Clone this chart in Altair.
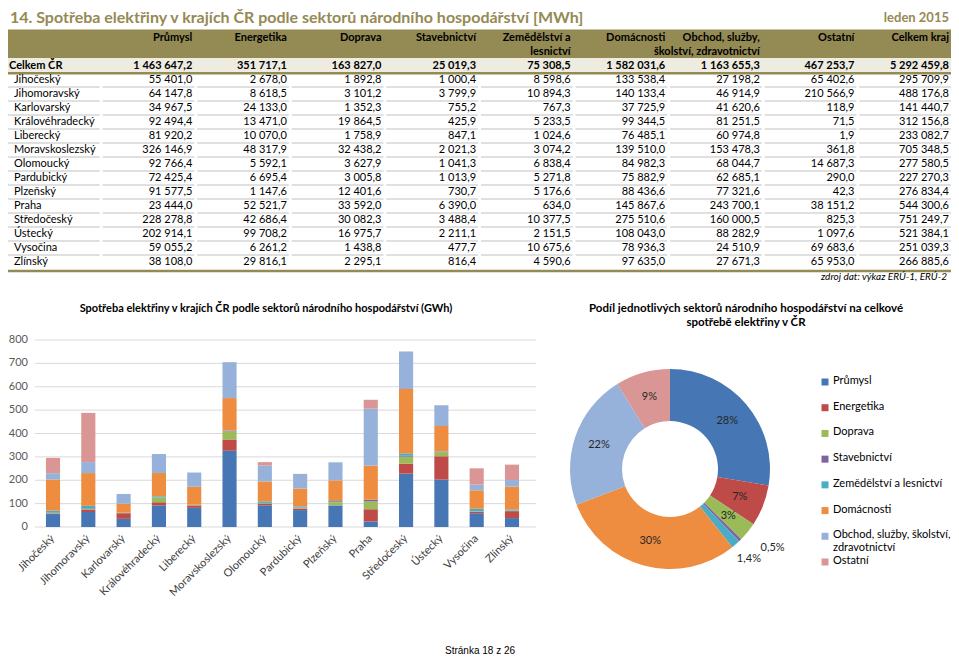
import altair as alt
import pandas as pd

# ---------------- data ----------------
sectors = ["Průmysl", "Energetika", "Doprava", "Stavebnictví", "Zemědělství a lesnictví",
           "Domácnosti", "Obchod, služby, školství, zdravotnictví", "Ostatní"]
legend_labels = ["Průmysl", "Energetika", "Doprava", "Stavebnictví", "Zemědělství a lesnictví",
                 "Domácnosti", "Obchod, služby, školství,\nzdravotnictví", "Ostatní"]
colors = ["#4776B4", "#BE4B48", "#9BBB59", "#7F62A1", "#4BACC6", "#EE8C40", "#97B2DA", "#D99694"]

header_line1 = ["Průmysl", "Energetika", "Doprava", "Stavebnictví", "Zemědělství a",
                "Domácnosti", "Obchod, služby,", "Ostatní", "Celkem kraj"]
header_line2 = ["", "", "", "", "lesnictví", "", "školství, zdravotnictví", "", ""]

regions = ["Jihočeský", "Jihomoravský", "Karlovarský", "Královéhradecký", "Liberecký",
           "Moravskoslezský", "Olomoucký", "Pardubický", "Plzeňský", "Praha",
           "Středočeský", "Ústecký", "Vysočina", "Zlínský"]

prumysl = [55401.0, 64147.8, 34967.5, 92494.4, 81920.2, 326146.9, 92766.4, 72425.4,
           91577.5, 23444.0, 228278.8, 202914.1, 59055.2, 38108.0]
energetika = [2678.0, 8618.5, 24133.0, 13471.0, 10070.0, 48317.9, 5592.1, 6695.4,
              1147.6, 52521.7, 42686.4, 99708.2, 6261.2, 29816.1]
doprava = [1892.8, 3101.2, 1352.3, 19864.5, 1758.9, 32438.2, 3627.9, 3005.8,
           12401.6, 33592.0, 30082.3, 16975.7, 1438.8, 2295.1]
stavebnictvi = [1000.4, 3799.9, 755.2, 425.9, 847.1, 2021.3, 1041.3, 1013.9,
                730.7, 6390.0, 3488.4, 2211.1, 477.7, 816.4]
zemedelstvi = [8598.6, 10894.3, 767.3, 5233.5, 1024.6, 3074.2, 6838.4, 5271.8,
               5176.6, 634.0, 10377.5, 2151.5, 10675.6, 4590.6]
domacnosti = [133538.4, 140133.4, 37725.9, 99344.5, 76485.1, 139510.0, 84982.3, 75882.9,
              88436.6, 145867.6, 275510.6, 108043.0, 78936.3, 97635.0]
obchod = [27198.2, 46914.9, 41620.6, 81251.5, 60974.8, 153478.3, 68044.7, 62685.1,
          77321.6, 243700.1, 160000.5, 88282.9, 24510.9, 27671.3]
ostatni = [65402.6, 210566.9, 118.9, 71.5, 1.9, 361.8, 14687.3, 290.0,
           42.3, 38151.2, 825.3, 1097.6, 69683.6, 65953.0]
celkem_kraj = [295709.9, 488176.8, 141440.7, 312156.8, 233082.7, 705348.5, 277580.5,
               227270.3, 276834.4, 544300.6, 751249.7, 521384.1, 251039.3, 266885.6]
celkem_cr = [1463647.2, 351717.1, 163827.0, 25019.3, 75308.5, 1582031.6, 1163655.3,
             467253.7, 5292459.8]

pie_labels = ["28%", "7%", "3%", "0,5%", "1,4%", "30%", "22%", "9%"]
y_ticks = [0, 100, 200, 300, 400, 500, 600, 700, 800]

title_text = "14. Spotřeba elektřiny v krajích ČR podle sektorů národního hospodářství [MWh]"
date_text = "leden 2015"
source_text = "zdroj dat: výkaz ERÚ-1, ERÚ-2"
bar_title = "Spotřeba elektřiny v krajích ČR podle sektorů národního hospodářství (GWh)"
pie_title = "Podíl jednotlivých sektorů národního hospodářství na celkové\nspotřebě elektřiny v ČR"
footer = "Stránka 18 z 26"

series = [prumysl, energetika, doprava, stavebnictvi, zemedelstvi, domacnosti, obchod, ostatni]

FONT = "Lato"
OLIVE = "#948A54"
W, H = 943, 649


def cz(v):
    return f"{v:,.1f}".replace(",", " ").replace(".", ",")


# ---------------- table ----------------
cols = ["label"] + header_line1
xs = alt.Scale(type="band", domain=cols, range=[0, W], paddingInner=0.03, paddingOuter=0)
ys = alt.Scale(type="linear", domain=[-4, 15], range=[2, 268], nice=False, zero=False)

cells_total = pd.DataFrame({"col": header_line1, "row": 0, "txt": [cz(v) for v in celkem_cr]})
reg_rows = []
for i, r in enumerate(regions):
    vals = [s[i] for s in series] + [celkem_kraj[i]]
    for c, v in zip(header_line1, vals):
        reg_rows.append({"col": c, "row": i + 1, "txt": cz(v)})
cells_reg = pd.DataFrame(reg_rows)
labels_reg = pd.DataFrame({"col": "label", "row": list(range(1, 15)), "txt": regions})
labels_total = pd.DataFrame({"col": ["label"], "row": [0], "txt": ["Celkem ČR"]})
hdr = pd.DataFrame(
    [{"col": c, "row": -2, "txt": a} for c, a in zip(header_line1, header_line1)]
    + [{"col": c, "row": -1, "txt": b} for c, b in zip(header_line1, header_line2) if b]
)
seps = pd.DataFrame([{"col": c, "y1": k + 0.45, "y2": k + 0.56} for k in range(1, 14) for c in cols])
head_band = pd.DataFrame({"y1": [-2.6], "y2": [-0.57]})
total_band = pd.DataFrame({"y1": [-0.57], "y2": [0.45]})
thick = pd.DataFrame({"y": [0.52, 14.64]})
top_txt = pd.DataFrame({"col": ["label"], "row": [-3.4], "txt": [title_text]})
date_df = pd.DataFrame({"col": [header_line1[-1]], "row": [-3.4], "txt": [date_text]})
src_df = pd.DataFrame({"col": [header_line1[-1]], "row": [15.1], "txt": [source_text]})

X0 = lambda: alt.X("col:N", scale=xs, axis=None, bandPosition=0)
X1 = lambda: alt.X("col:N", scale=xs, axis=None, bandPosition=1)
Yr = lambda f="row:Q": alt.Y(f, scale=ys, axis=None)

head_layer = alt.Chart(head_band).mark_rect(color=OLIVE).encode(
    x=alt.value(0), x2=alt.value(W), y=Yr("y1:Q"), y2="y2:Q")
total_layer = alt.Chart(total_band).mark_rect(color="#EEECE1").encode(
    x=alt.value(0), x2=alt.value(W), y=Yr("y1:Q"), y2="y2:Q")
sep_layer = alt.Chart(seps).mark_rect(color="#D6D6D6").encode(
    x=alt.X("col:N", scale=xs, axis=None), y=Yr("y1:Q"), y2="y2:Q")
thick_layer = alt.Chart(thick).mark_rule(color=OLIVE, strokeWidth=2.5).encode(
    x=alt.value(0), x2=alt.value(W), y=Yr("y:Q"))

tstyle = dict(font=FONT, fontSize=11, baseline="middle", color="#000000")
tot_layer = alt.Chart(cells_total).mark_text(align="right", dx=-2, fontWeight="bold", **tstyle).encode(
    x=X1(), y=Yr(), text="txt:N")
reg_layer = alt.Chart(cells_reg).mark_text(align="right", dx=-2, **tstyle).encode(
    x=X1(), y=Yr(), text="txt:N")
lab_tot = alt.Chart(labels_total).mark_text(align="left", dx=1, fontWeight="bold", **tstyle).encode(
    x=X0(), y=Yr(), text="txt:N")
lab_reg = alt.Chart(labels_reg).mark_text(align="left", dx=6, **tstyle).encode(
    x=X0(), y=Yr(), text="txt:N")
hdr_layer = alt.Chart(hdr).mark_text(align="right", dx=-2, fontWeight="bold", **tstyle).encode(
    x=X1(), y=Yr(), text="txt:N")
title_layer = alt.Chart(top_txt).mark_text(align="left", baseline="middle", font=FONT, fontSize=16,
                                           fontWeight="bold", color=OLIVE, dx=2).encode(
    x=X0(), y=Yr(), text="txt:N")
date_layer = alt.Chart(date_df).mark_text(align="right", baseline="middle", font=FONT, fontSize=13,
                                          fontWeight="bold", color=OLIVE, dx=-2).encode(
    x=X1(), y=Yr(), text="txt:N")
src_layer = alt.Chart(src_df).mark_text(align="right", baseline="middle", font=FONT, fontSize=10,
                                        fontStyle="italic", color="#000000", dx=-4).encode(
    x=X1(), y=Yr(), text="txt:N")

table = alt.layer(head_layer, total_layer, sep_layer, thick_layer, tot_layer, reg_layer, lab_tot,
                  lab_reg, hdr_layer, title_layer, date_layer, src_layer)

# ---------------- bar chart ----------------
bar_rows = []
for si, (s, vals) in enumerate(zip(sectors, series)):
    for r, v in zip(regions, vals):
        bar_rows.append({"region": r, "sector": s, "sidx": si, "gwh": v / 1000.0})
bar_df = pd.DataFrame(bar_rows)

color_scale = alt.Scale(domain=sectors, range=colors)
bxs = alt.Scale(type="band", domain=regions, range=[27.35, 521.65], paddingInner=0.6, paddingOuter=0.3)
bys = alt.Scale(type="linear", domain=[0, 800], range=[519, 332], nice=False, zero=True)

tick_df = pd.DataFrame({"tick": y_ticks})
grid = alt.Chart(tick_df).mark_rule(color="#D9D9D9", strokeWidth=1).encode(
    x=alt.value(27), x2=alt.value(528), y=alt.Y("tick:Q", scale=bys, axis=None))
bars = alt.Chart(bar_df).mark_bar().encode(
    x=alt.X("region:N", scale=bxs, axis=None),
    y=alt.Y("gwh:Q", scale=bys, axis=None, stack="zero"),
    color=alt.Color("sector:N", scale=color_scale, legend=None),
    order=alt.Order("sidx:Q", sort="ascending"),
)
ylab = alt.Chart(tick_df).mark_text(align="right", baseline="middle", font=FONT, fontSize=11,
                                    color="#595959").encode(
    x=alt.value(20), y=alt.Y("tick:Q", scale=bys, axis=None), text="tick:Q")
reg_df = pd.DataFrame({"region": regions})
xlab = alt.Chart(reg_df).mark_text(align="right", baseline="middle", angle=315, font=FONT,
                                   fontSize=11, color="#404040").encode(
    x=alt.X("region:N", scale=bxs, axis=None), y=alt.value(529), text="region:N")
barpart = alt.layer(grid, bars, ylab, xlab)

# ---------------- pie ----------------
pie_df = pd.DataFrame({
    "sector": sectors, "sidx": list(range(8)), "val": celkem_cr[:8],
    "lab_in": [l if i not in (3, 4) else "" for i, l in enumerate(pie_labels)],
    "lab_a": [l if i == 3 else "" for i, l in enumerate(pie_labels)],
    "lab_b": [l if i == 4 else "" for i, l in enumerate(pie_labels)],
})
CX, CY = 662, 461
pbase = alt.Chart(pie_df).encode(
    theta=alt.Theta("val:Q", stack=True),
    order=alt.Order("sidx:Q", sort="ascending"),
    x=alt.value(CX), y=alt.value(CY),
)
arcs = pbase.mark_arc(outerRadius=100, innerRadius=48).encode(
    color=alt.Color("sector:N", scale=color_scale, legend=None))
pstyle = dict(font=FONT, fontSize=11, color="#262626", baseline="middle", align="center")
lab_in = pbase.mark_text(radius=75, **pstyle).encode(text="lab_in:N")
lab_a = pbase.mark_text(radius=122, dx=17, dy=-8, **pstyle).encode(text="lab_a:N")
lab_b = pbase.mark_text(radius=120, **pstyle).encode(text="lab_b:N")
pie = alt.layer(arcs, lab_in, lab_a, lab_b)

# ---------------- legend ----------------
leg_df = pd.DataFrame({"sector": sectors, "lab": legend_labels})
lys = alt.Scale(type="point", domain=sectors, range=[374, 554], padding=0)
leg_sym = alt.Chart(leg_df).mark_square(size=49, filled=True, opacity=1).encode(
    x=alt.value(817), y=alt.Y("sector:N", scale=lys, axis=None),
    color=alt.Color("sector:N", scale=color_scale, legend=None))
leg_txt = alt.Chart(leg_df).mark_text(align="left", baseline="top", dy=-7, lineBreak="\n",
                                      lineHeight=12.5, font=FONT, fontSize=11, color="#000000").encode(
    x=alt.value(825), y=alt.Y("sector:N", scale=lys, axis=None), text="lab:N")
legend = alt.layer(leg_sym, leg_txt)

# ---------------- titles ----------------
one = pd.DataFrame({"t": [0]})
bt = alt.Chart(one).mark_text(text=bar_title, align="center", baseline="top", font=FONT, fontSize=11,
                              fontWeight="bold", color="#000000").encode(
    x=alt.value(258), y=alt.value(295))
pt = alt.Chart(one).mark_text(text=pie_title, align="center", baseline="top", lineBreak="\n",
                              lineHeight=14, font=FONT, fontSize=11.5, fontWeight="bold",
                              color="#000000").encode(
    x=alt.value(738), y=alt.value(295))
ft = alt.Chart(one).mark_text(text=footer, align="center", baseline="bottom", font="Liberation Sans",
                              fontSize=10, color="#000000").encode(
    x=alt.value(472), y=alt.value(648))

chart = alt.layer(table, barpart, pie, legend, bt, pt, ft).resolve_scale(
    x="independent", y="independent"
).properties(
    width=W, height=H, autosize=alt.AutoSizeParams(type="none"), padding=0
).configure_view(stroke=None)

chart.save("out.html", embed_options={"renderer": "svg", "actions": False})
